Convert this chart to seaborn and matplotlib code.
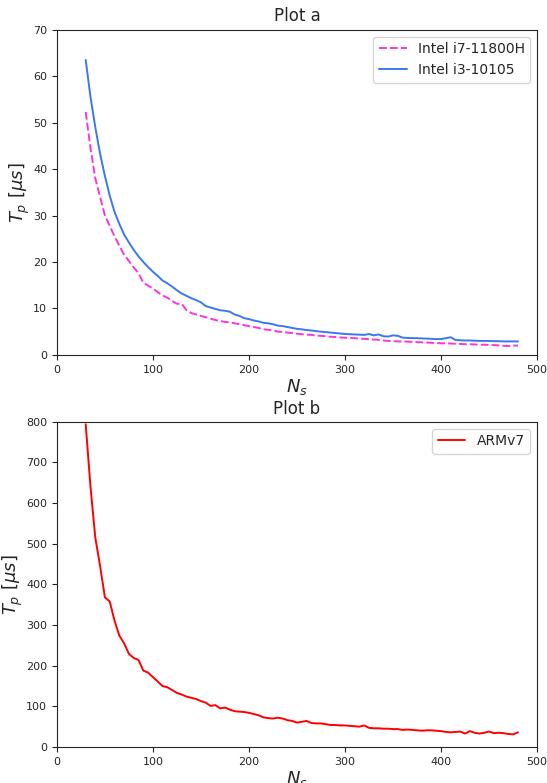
import numpy as np
import pandas as pd
import seaborn as sns
import matplotlib
matplotlib.use("Agg")
import matplotlib.pyplot as plt

Ns = list(range(30, 485, 5))

i7_11800H = [52.3, 44.5, 38.0, 34.0, 30.0, 27.8, 25.5, 23.5, 21.6, 20.2,
             18.8, 17.6, 15.5, 14.9, 14.3, 13.5, 12.8, 12.3, 11.6, 11.0,
             11.0, 9.6, 9.0, 8.7, 8.4, 8.1, 7.8, 7.5, 7.3, 7.1,
             7.0, 6.8, 6.6, 6.4, 6.2, 6.0, 5.8, 5.5, 5.4, 5.3,
             5.0, 4.95, 4.8, 4.7, 4.55, 4.45, 4.35, 4.3, 4.15, 4.1,
             4.0, 3.9, 3.85, 3.75, 3.7, 3.65, 3.6, 3.5, 3.45, 3.4,
             3.3, 3.25, 3.1, 3.0, 2.95, 2.9, 2.9, 2.85, 2.8, 2.75,
             2.7, 2.65, 2.6, 2.55, 2.5, 2.5, 2.45, 2.4, 2.35, 2.3,
             2.3, 2.25, 2.2, 2.2, 2.15, 2.1, 2.05, 1.95, 1.9, 2.0,
             2.0]

i3_10105 = [63.5, 55.5, 49.0, 43.3, 38.5, 34.3, 30.8, 28.2, 25.9, 24.2,
            22.6, 21.2, 20.0, 18.9, 17.9, 17.0, 16.0, 15.4, 14.7, 13.9,
            13.2, 12.7, 12.2, 11.8, 11.3, 10.5, 10.2, 9.9, 9.6, 9.5,
            9.3, 8.7, 8.4, 7.9, 7.7, 7.4, 7.2, 6.9, 6.8, 6.6,
            6.3, 6.2, 6.0, 5.8, 5.6, 5.5, 5.35, 5.25, 5.1, 5.0,
            4.9, 4.8, 4.7, 4.6, 4.5, 4.45, 4.4, 4.35, 4.3, 4.5,
            4.2, 4.4, 4.0, 3.95, 4.2, 4.1, 3.7, 3.65, 3.6, 3.6,
            3.55, 3.5, 3.45, 3.4, 3.4, 3.6, 3.8, 3.2, 3.15, 3.1,
            3.1, 3.05, 3.0, 3.0, 3.0, 2.95, 2.95, 2.9, 2.9, 2.9,
            2.9]

armv7 = [794, 640, 515, 445, 368, 358, 311, 274, 255, 229,
         219, 214, 188, 183, 172, 161, 150, 147, 140, 133,
         129, 124, 121, 118, 113, 109, 101, 103, 95, 97,
         92, 88, 87, 86, 84, 81, 78, 73, 71, 70,
         72, 70, 66, 64, 60, 62, 64, 59, 58, 58,
         56, 54, 54, 53, 53, 52, 51, 50, 53, 47,
         46, 46, 45, 45, 44, 44, 42, 43, 42, 41,
         40, 41, 41, 40, 39, 37, 36, 37, 38, 33,
         39, 35, 33, 35, 38, 34, 35, 34, 32, 31,
         36]

sns.set_style("ticks")
plt.rcParams['font.family'] = ['DejaVu Sans']

dfa = pd.DataFrame({'Ns': Ns * 2,
                    'Tp': i7_11800H + i3_10105,
                    'cpu': ['Intel i7-11800H'] * len(Ns) + ['Intel i3-10105'] * len(Ns)})
dfb = pd.DataFrame({'Ns': Ns, 'Tp': armv7, 'cpu': 'ARMv7'})

fig, (ax1, ax2) = plt.subplots(2, 1, figsize=(5.47, 7.83), dpi=100)
plt.subplots_adjust(left=0.104, right=0.982, top=0.962, bottom=0.046, hspace=0.206)

sns.lineplot(data=dfa, x='Ns', y='Tp', hue='cpu', style='cpu',
             palette={'Intel i7-11800H': '#ff33dd', 'Intel i3-10105': '#3a78f2'},
             dashes={'Intel i7-11800H': (4, 1.6), 'Intel i3-10105': ''},
             linewidth=1.4, ax=ax1)
ax1.set_xlim(0, 500)
ax1.set_ylim(0, 70)
ax1.set_title('Plot a', fontsize=12)
ax1.set_xlabel('$N_s$', fontsize=13, labelpad=2)
ax1.set_ylabel('$T_p$ [$\\mu s$]', fontsize=13, labelpad=1)
ax1.tick_params(labelsize=8)
ax1.legend(loc='upper right', fontsize=10, title=None)

sns.lineplot(data=dfb, x='Ns', y='Tp', hue='cpu', palette={'ARMv7': 'red'},
             linewidth=1.4, ax=ax2)
ax2.set_xlim(0, 500)
ax2.set_ylim(0, 800)
ax2.set_title('Plot b', fontsize=12)
ax2.set_xlabel('$N_s$', fontsize=13, labelpad=2)
ax2.set_ylabel('$T_p$ [$\\mu s$]', fontsize=13, labelpad=1)
ax2.tick_params(labelsize=8)
ax2.legend(loc='upper right', fontsize=10, title=None)

fig.savefig('out.png', dpi=100)
